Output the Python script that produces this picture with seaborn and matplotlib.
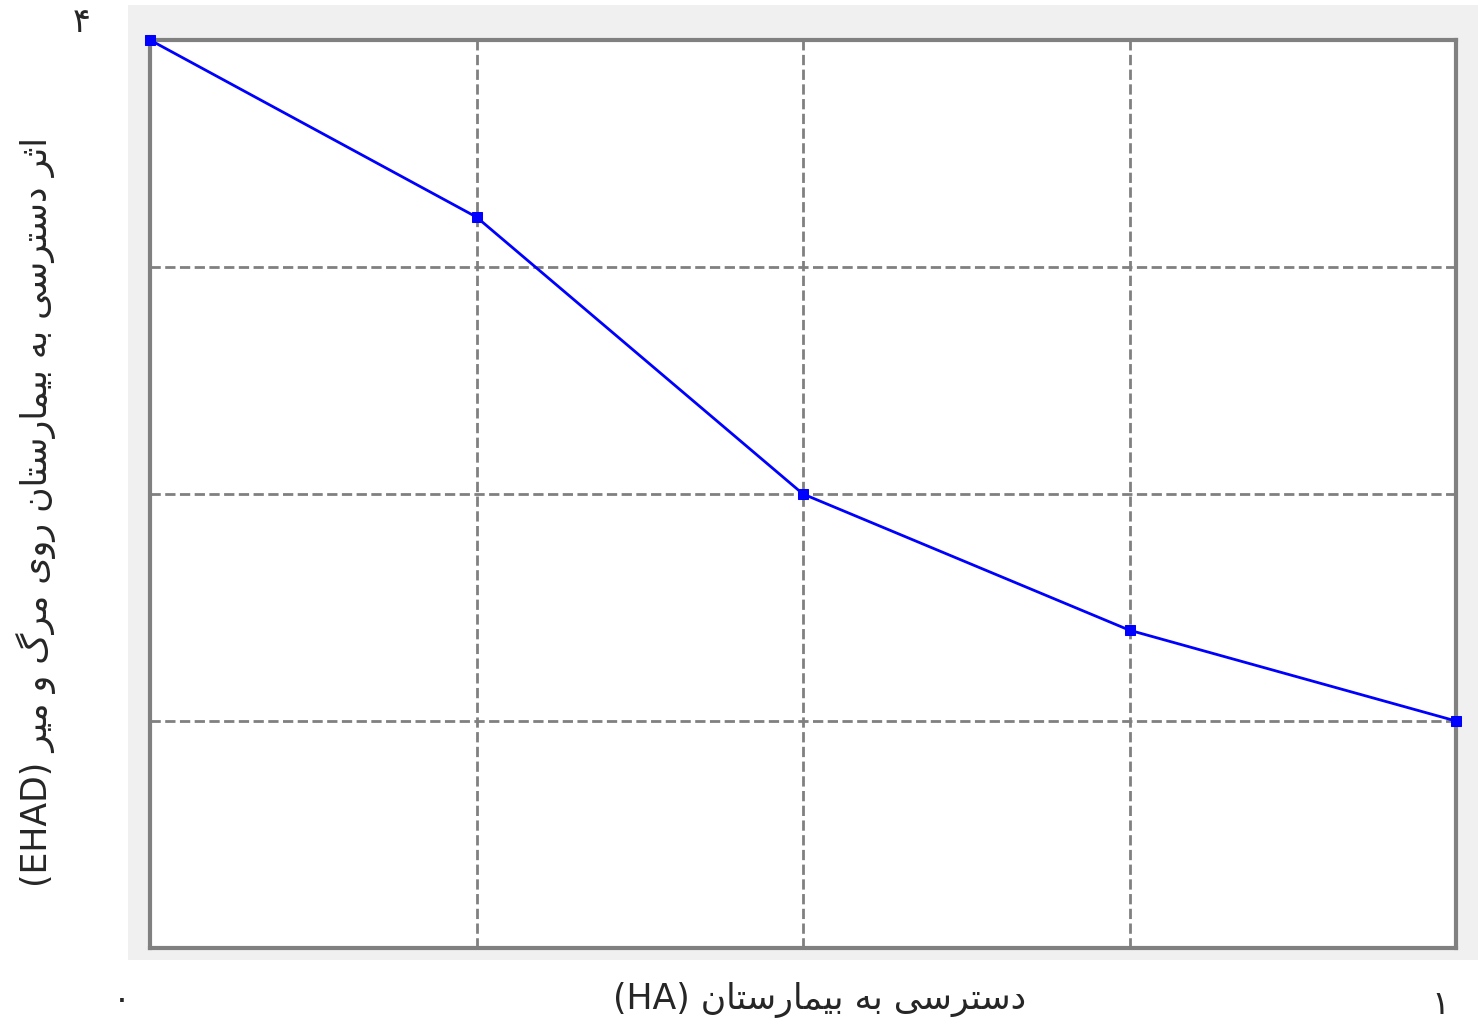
import matplotlib
matplotlib.use("Agg")
import matplotlib.pyplot as plt
import seaborn as sns
import pandas as pd

x_vals = [0.0, 0.25, 0.5, 0.75, 1.0]
y_vals = [4.0, 3.22, 2.0, 1.4, 1.0]
x_tick_labels = ["۰", "۱"]
y_tick_labels = ["۴"]
xlabel_fa = "دسترسی به بیمارستان"
xlabel_lat = "(HA)"
ylabel_fa = "اثر دسترسی به بیمارستان روی مرگ و میر"
ylabel_lat = "(EHAD)"

FORMS = {
    'ا': (0xFE8D, 0xFE8E, None, None),
    'ب': (0xFE8F, 0xFE90, 0xFE91, 0xFE92),
    'ت': (0xFE95, 0xFE96, 0xFE97, 0xFE98),
    'ث': (0xFE99, 0xFE9A, 0xFE9B, 0xFE9C),
    'د': (0xFEA9, 0xFEAA, None, None),
    'ر': (0xFEAD, 0xFEAE, None, None),
    'س': (0xFEB1, 0xFEB2, 0xFEB3, 0xFEB4),
    'م': (0xFEE1, 0xFEE2, 0xFEE3, 0xFEE4),
    'ن': (0xFEE5, 0xFEE6, 0xFEE7, 0xFEE8),
    'ه': (0xFEE9, 0xFEEA, 0xFEEB, 0xFEEC),
    'و': (0xFEED, 0xFEEE, None, None),
    'ی': (0xFBFC, 0xFBFD, 0xFBFE, 0xFBFF),
    'گ': (0xFB92, 0xFB93, 0xFB94, 0xFB95),
}

def shape(s):
    out = []
    n = len(s)
    for i, c in enumerate(s):
        if c not in FORMS:
            out.append(c); continue
        f = FORMS[c]
        prev = s[i-1] if i > 0 else None
        nxt = s[i+1] if i < n-1 else None
        jp = prev in FORMS and FORMS[prev][2] is not None
        jn = nxt in FORMS and f[2] is not None
        if jp and jn: cp = f[3]
        elif jp: cp = f[1]
        elif jn: cp = f[2]
        else: cp = f[0]
        out.append(chr(cp))
    return "".join(out)[::-1]

sns.set_theme(style="white")
plt.rcParams['font.family'] = ['DejaVu Sans', 'Noto Sans']

fig = plt.figure(figsize=(14.78, 10.30), dpi=100)
bg = fig.add_axes([128/1478, 1-960/1030, 1350/1478, 955/1030])
bg.set_facecolor("#f0f0f0")
bg.set_xticks([]); bg.set_yticks([])
for sp in bg.spines.values():
    sp.set_visible(False)
ax = fig.add_axes([150/1478, 1-948/1030, 1306/1478, 908/1030])
ax.set_facecolor("white")
df = pd.DataFrame({"x": x_vals, "y": y_vals})
sns.lineplot(data=df, x="x", y="y", ax=ax, color="#0000ff", lw=2,
             marker="s", markersize=7, markeredgecolor="#0000ff", zorder=3, clip_on=False)
ax.set_xlim(0, 1)
ax.set_ylim(0, 4)
ax.set_xticks([0.25, 0.5, 0.75])
ax.set_yticks([1, 2, 3])
ax.set_xticklabels([]); ax.set_yticklabels([])
ax.tick_params(length=0)
ax.grid(True, ls="--", color="#808080", lw=2)
for sp in ax.spines.values():
    sp.set_color("#808080"); sp.set_linewidth(3)
ax.set_xlabel(""); ax.set_ylabel("")

fs = 25
fig.text(122/1478, 1-1000/1030, x_tick_labels[0], fontsize=24, ha="center", va="center")
fig.text(1440/1478, 1-1005/1030, x_tick_labels[1], fontsize=24, ha="center", va="center")
fig.text(82/1478, 1-22/1030, y_tick_labels[0], fontsize=24, ha="center", va="center")
fig.text(820/1478, 1-1000/1030, xlabel_lat + " " + shape(xlabel_fa), fontsize=fs,
         ha="center", va="center")
fig.text(36/1478, 1-512/1030, ylabel_lat + " " + shape(ylabel_fa), fontsize=fs,
         ha="center", va="center", rotation=90)
fig.savefig("out.png", dpi=100)
